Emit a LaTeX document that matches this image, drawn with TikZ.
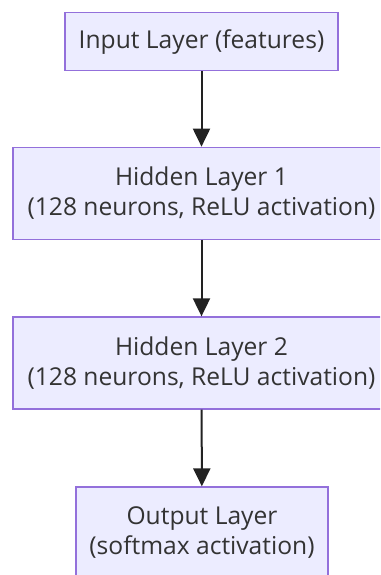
\documentclass[tikz,border=0pt]{standalone}
\usepackage{fontspec}
\setmainfont{Open Sans}
\usetikzlibrary{arrows.meta}
\definecolor{boxfill}{HTML}{ECECFF}
\definecolor{boxline}{HTML}{9370DB}
\definecolor{arrowc}{HTML}{222222}
\definecolor{txt}{HTML}{333333}
\tikzset{
  layer/.style={draw=boxline, fill=boxfill, line width=1.3pt, rectangle, align=center,
    text=txt, font=\fontsize{24.6}{30}\selectfont, inner sep=0pt},
  flow/.style={draw=arrowc, line width=2pt, -{Triangle[width=17pt,length=18pt]}, shorten >=0pt}
}
\begin{document}
\begin{tikzpicture}[x=1pt,y=-1pt]
\clip (0,0) rectangle (380,575);
\fill[white] (0,0) rectangle (380,575);
\node[layer, minimum width=273pt, minimum height=58pt] (in) at (201.5,41.7) {Input Layer (features)};
\node[layer, minimum width=377pt, minimum height=92pt] (h1) at (201.5,193.3) {Hidden Layer 1\\(128 neurons, ReLU activation)};
\node[layer, minimum width=377pt, minimum height=92pt] (h2) at (201.5,363) {Hidden Layer 2\\(128 neurons, ReLU activation)};
\node[layer, minimum width=252pt, minimum height=92pt] (out) at (202,533) {Output Layer\\(softmax activation)};
\draw[flow] (in) -- (h1);
\draw[flow] (h1) -- (h2);
\draw[flow] (h2) -- (out);
\end{tikzpicture}
\end{document}
